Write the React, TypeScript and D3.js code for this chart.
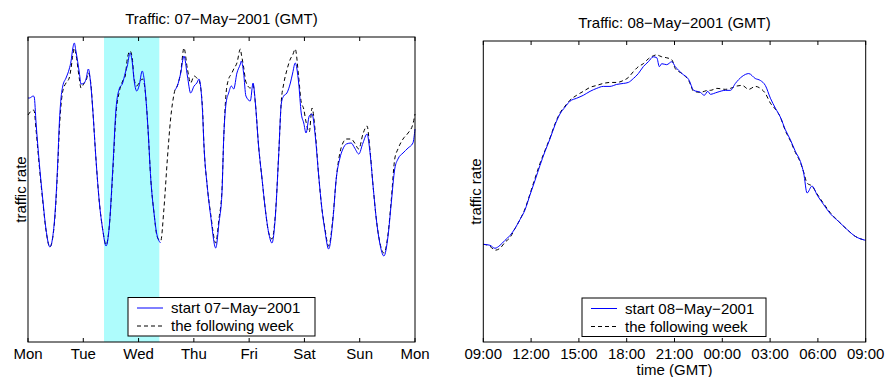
import React from "react";
import * as d3 from "d3";

// ---------- DATA ----------
const weekdayLabels = ["Mon", "Tue", "Wed", "Thu", "Fri", "Sat", "Sun", "Mon"];
const weekTicks = [0, 24, 48, 72, 96, 120, 144, 168];

// hours since Mon 07-May-2001 00:00 GMT
const weekHours = [
  0, 0.6, 2.3, 2.7, 3.5, 4.9, 6.4, 7.8, 9.5, 11.4, 12.9, 13.6, 14.3, 15.1, 16.5, 17.9, 18.7, 19.4, 20.1, 20.8,
  22.3, 23.0, 24.4, 25.2, 26.2, 27.3, 28.1, 29.5, 31.0, 32.4, 33.9, 35.3, 36.8, 38.2, 39.6, 41.1, 42.2, 43.1,
  44.3, 45.3, 46.0, 47.2, 48.2, 49.6, 50.4, 51.1, 52.1, 53.3, 54.7, 56.1, 57.6, 59.0, 60.5, 61.9, 63.4, 63.8,
  64.8, 66.3, 67.7, 69.2, 70.6, 72.1, 73.3, 74.2, 75.7, 76.4, 77.8, 79.3, 81.5, 82.9, 84.2, 85.0, 86.0, 87.1,
  88.3, 89.3, 90.7, 92.2, 92.6, 93.6, 94.6, 96.5, 97.7, 98.7, 100.1, 101.6, 103.0, 104.5, 105.9, 107.4, 108.8,
  110.0, 111.0, 112.4, 113.9, 114.9, 116.0, 117.5, 118.6, 119.7, 120.7, 122.1, 123.3, 124.7, 126.2, 127.6,
  128.8, 130.5, 132.4, 133.8, 135.3, 136.7, 138.2, 140.3, 141.8, 143.6, 145.4, 147.2, 148.3, 149.8, 151.2,
  152.7, 154.5, 156.3, 157.7, 159.2, 160.6, 162.8, 165.0, 167.1, 168,
];
const weekStart: (number | null)[] = [
  244, 244, 246, 245, 219, 179, 143, 113, 95, 119, 179, 219, 243, 256, 264, 273, 281, 293, 299, 291,
  269, 258, 259, 263, 273, 256, 233, 183, 139, 113, 96, 116, 173, 233, 253, 259, 269, 276,
  289, 279, 263, 251, 256, 271, 263, 246, 213, 163, 129, 106, 99, null, null, null, null, 252,
  256, 269, 286, 266, 249, 256, 259, 263, 233, 196, 156, 126, 94, 119, 149, 206, 239, 249,
  256, 253, 269, 278, 281, 269, 246, 241, 259, 239, 196, 163, 133, 109, 99, 126, 186,
  239, 246, 249, 259, 269, 279, 259, 229, 219, 209, 226, 228, 206, 166, 133,
  113, 93, 123, 163, 183, 193, 198, 199, 194, 188, 199, 208, 193, 156, 123,
  99, 86, 106, 139, 173, 183, 189, 194, 199, 213,
];
const weekFollowing = [
  227, 229, 232, 231, 212, 176, 141, 112, 95, 117, 175, 212, 236, 251, 259, 264, 274, 286, 294, 288,
  263, 254, 259, 261, 269, 258, 233, 183, 139, 113, 97, 116, 170, 228, 250, 261, 266, 283,
  291, 283, 264, 256, 259, 263, 259, 246, 213, 163, 129, 105, 101, 133, 183, 223, 248, 252,
  256, 270, 294, 273, 259, 266, 264, 262, 236, 196, 156, 128, 99, 123, 152, 206, 249, 263,
  268, 273, 279, 293, 288, 275, 260, 254, 257, 239, 196, 163, 133, 109, 103, 128, 186,
  242, 258, 272, 283, 287, 293, 265, 240, 233, 220, 210, 234, 210, 166, 133,
  115, 96, 125, 163, 188, 199, 203, 203, 199, 193, 208, 216, 196, 156, 123,
  100, 89, 108, 142, 183, 193, 203, 209, 218, 228,
];

const dayLabels = ["09:00", "12:00", "15:00", "18:00", "21:00", "00:00", "03:00", "06:00", "09:00"];
const dayTicks = [0, 3, 6, 9, 12, 15, 18, 21, 24];

// hours since Tue 08-May-2001 09:00 GMT
const dayHours = [
  0, 0.42, 0.73, 1.05, 1.36, 1.68, 1.99, 2.3, 2.62, 2.93, 3.25, 3.56, 3.87, 4.19, 4.5, 4.81, 5.13, 5.44,
  5.86, 6.28, 6.7, 7.12, 7.53, 7.95, 8.37, 8.79, 9.1, 9.42, 9.73, 10.04, 10.36, 10.67, 10.89, 11.05, 11.2,
  11.51, 11.83, 12.05, 12.47, 12.89, 13.21, 13.62, 13.87, 14.09, 14.25, 14.67, 15.19, 15.51, 15.82, 16.24,
  16.66, 17.07, 17.39, 17.7, 18.02, 18.33, 18.64, 18.96, 19.27, 19.59, 19.9, 20.11, 20.32, 20.63, 20.95,
  21.37, 21.78, 22.31, 22.83, 23.35, 24,
];
const dayStart = [
  99, 98, 95, 98, 103, 108, 115, 124, 134, 149, 164, 179, 193, 206, 220, 231, 238, 244,
  247, 250, 254, 257, 259, 259, 261, 262, 263, 267, 272, 279, 284, 289, 288, 279, 282,
  281, 284, 279, 272, 266, 255, 253, 250, 254, 251, 253, 255, 255, 262, 269,
  272, 267, 265, 260, 247, 237, 228, 215, 205, 193, 183, 171, 151, 158, 149,
  139, 130, 122, 114, 107, 103,
];
const dayFollowing = [
  99, 97, 93, 95, 101, 106, 115, 124, 135, 150, 166, 181, 194, 207, 221, 232, 239, 245,
  250, 254, 258, 260, 262, 263, 263, 265, 268, 274, 279, 282, 287, 290, 291, 290, 289,
  288, 286, 277, 272, 265, 254, 253, 254, 255, 255, 257, 256, 257, 259, 260,
  256, 259, 257, 252, 242, 236, 228, 214, 204, 192, 182, 172, 161, 158, 150,
  140, 131, 122, 114, 107, 103,
];

const FONT = "'Liberation Sans', Arial, Helvetica, sans-serif";
const BLUE = "#0000ff";
const DASH = "4,3";

function Panel(props: {
  x0: number; x1: number; y0: number; y1: number;
  domain: [number, number];
  ticks: number[]; tickLabels: string[];
  hours: number[]; a: (number | null)[]; b: number[];
  title: string; legendA: string;
  band?: [number, number];
  xlabel?: string;
  legend: { x: number; y: number; w: number; h: number };
}) {
  const { x0, x1, y0, y1 } = props;
  const x = d3.scaleLinear().domain(props.domain).range([x0, x1]);
  const y = d3.scaleLinear().domain([0, 305]).range([y1, y0]);
  const lineA = d3
    .line<number>()
    .defined((_, i) => props.a[i] != null)
    .x((_, i) => x(props.hours[i]))
    .y((_, i) => y(props.a[i] as number))
    .curve(d3.curveMonotoneX);
  const lineB = d3
    .line<number>()
    .x((_, i) => x(props.hours[i]))
    .y((_, i) => y(props.b[i]))
    .curve(d3.curveMonotoneX);
  const idx = props.hours.map((_, i) => i);
  const cx = (x0 + x1) / 2;
  const cy = (y0 + y1) / 2;
  const L = props.legend;
  return (
    <g>
      {props.band && (
        <rect x={x(props.band[0])} y={y0} width={x(props.band[1]) - x(props.band[0])} height={y1 - y0} fill="#aefcfc" />
      )}
      <path d={lineB(idx) || ""} fill="none" stroke="#000" strokeWidth={1} strokeDasharray={DASH} />
      <path d={lineA(idx) || ""} fill="none" stroke={BLUE} strokeWidth={1} />
      <rect x={x0} y={y0} width={x1 - x0} height={y1 - y0} fill="none" stroke="#000" strokeWidth={1} />
      {props.ticks.map((t, i) => (
        <g key={i}>
          <line x1={x(t)} x2={x(t)} y1={y1} y2={y1 - 4} stroke="#000" />
          <line x1={x(t)} x2={x(t)} y1={y0} y2={y0 + 4} stroke="#000" />
          <text x={x(t)} y={359} textAnchor="middle" fontSize={15} fontFamily={FONT} fill="#000">
            {props.tickLabels[i]}
          </text>
        </g>
      ))}
      <text x={cx} y={y0 - 13} textAnchor="middle" fontSize={15} fontFamily={FONT} fill="#000">
        {props.title}
      </text>
      <text
        transform={`translate(${x0 - 2},${cy}) rotate(-90)`}
        textAnchor="middle"
        fontSize={15}
        fontFamily={FONT}
        fill="#000"
      >
        traffic rate
      </text>
      {props.xlabel && (
        <text x={cx} y={375} textAnchor="middle" fontSize={15} fontFamily={FONT} fill="#000">
          {props.xlabel}
        </text>
      )}
      <rect x={L.x} y={L.y} width={L.w} height={L.h} fill="#fff" stroke="#000" strokeWidth={1} />
      <line x1={L.x + 9} x2={L.x + 35} y1={L.y + 10.5} y2={L.y + 10.5} stroke={BLUE} />
      <line x1={L.x + 9} x2={L.x + 35} y1={L.y + 28.5} y2={L.y + 28.5} stroke="#000" strokeDasharray={DASH} />
      <text x={L.x + 43} y={L.y + 15.5} fontSize={15} fontFamily={FONT} fill="#000">
        {props.legendA}
      </text>
      <text x={L.x + 43} y={L.y + 33.5} fontSize={15} fontFamily={FONT} fill="#000">
        the following week
      </text>
    </g>
  );
}

export default function App() {
  return (
    <svg
      width={886}
      height={377}
      style={{ position: "absolute", left: 0, top: 0, background: "#fff" }}
    >
      <rect width={886} height={377} fill="#fff" />
      <Panel
        x0={28} x1={415} y0={37} y1={342}
        domain={[0, 168]}
        ticks={weekTicks} tickLabels={weekdayLabels}
        hours={weekHours} a={weekStart} b={weekFollowing}
        title="Traffic: 07−May−2001 (GMT)"
        legendA="start 07−May−2001"
        band={[33, 57]}
        legend={{ x: 128, y: 297.5, w: 187, h: 38.5 }}
      />
      <Panel
        x0={483.3} x1={865.7} y0={41} y1={342}
        domain={[0, 24]}
        ticks={dayTicks} tickLabels={dayLabels}
        hours={dayHours} a={dayStart} b={dayFollowing}
        title="Traffic: 08−May−2001 (GMT)"
        legendA="start 08−May−2001"
        xlabel="time (GMT)"
        legend={{ x: 582, y: 298, w: 184, h: 38.5 }}
      />
    </svg>
  );
}
